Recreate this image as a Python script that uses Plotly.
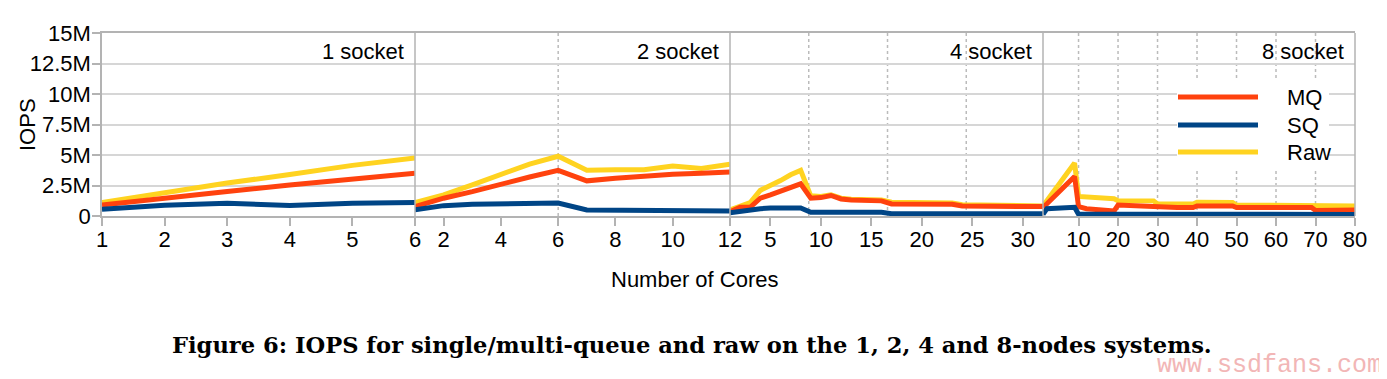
import plotly.graph_objects as go

# ---------------- data (IOPS in millions) ----------------
x1 = [1, 2, 3, 4, 5, 6]
mq1 = [0.9, 1.5, 2.0, 2.55, 3.05, 3.5]
sq1 = [0.55, 0.88, 1.04, 0.86, 1.04, 1.1]
raw1 = [1.1, 1.92, 2.7, 3.4, 4.15, 4.75]

x2 = [1, 2, 3, 4, 5, 6, 7, 8, 9, 10, 11, 12]
mq2 = [0.77, 1.46, 2.0, 2.64, 3.2, 3.74, 2.88, 3.1, 3.3, 3.43, 3.5, 3.6]
sq2 = [0.5, 0.85, 0.96, 1.0, 1.04, 1.07, 0.5, 0.47, 0.46, 0.45, 0.43, 0.41]
raw2 = [1.1, 1.73, 2.55, 3.46, 4.26, 4.9, 3.75, 3.8, 3.8, 4.1, 3.9, 4.25]

x3 = [1, 2, 3, 4, 5, 6, 7, 8, 9, 10, 11, 12, 13, 14, 15, 16, 17, 20, 23, 24, 28, 32]
mq3 = [0.36, 0.71, 0.71, 1.46, 1.73, 2.06, 2.36, 2.64, 1.46, 1.51, 1.68, 1.4,
       1.32, 1.29, 1.26, 1.24, 0.99, 0.96, 0.96, 0.82, 0.78, 0.77]
sq3 = [0.27, 0.41, 0.5, 0.6, 0.66, 0.66, 0.66, 0.66, 0.3, 0.3, 0.3, 0.3,
       0.3, 0.3, 0.3, 0.3, 0.19, 0.19, 0.19, 0.19, 0.19, 0.19]
raw3 = [0.5, 0.82, 1.1, 2.1, 2.47, 2.9, 3.38, 3.74, 1.65, 1.6, 1.73, 1.46,
        1.37, 1.34, 1.33, 1.32, 1.13, 1.1, 1.06, 0.92, 0.86, 0.82]

x4 = [1, 2, 9, 10, 12, 15, 19, 20, 25, 29, 30, 35, 39, 40, 45, 49, 50, 55, 60, 65, 69, 70, 75, 80]
mq4 = [0.71, 1.0, 3.24, 0.77, 0.6, 0.5, 0.41, 0.9, 0.8, 0.77, 0.69, 0.69,
       0.69, 0.82, 0.82, 0.82, 0.69, 0.69, 0.7, 0.69, 0.69, 0.45, 0.48, 0.5]
sq4 = [0.14, 0.6, 0.72, 0.14, 0.14, 0.14, 0.14, 0.14, 0.14, 0.14, 0.14, 0.14,
       0.14, 0.14, 0.14, 0.14, 0.14, 0.14, 0.14, 0.14, 0.14, 0.13, 0.13, 0.13]
raw4 = [0.82, 1.25, 4.34, 1.6, 1.58, 1.52, 1.42, 1.26, 1.25, 1.24, 0.99, 0.99,
        0.99, 1.13, 1.12, 1.1, 0.9, 0.9, 0.92, 0.9, 0.9, 0.82, 0.82, 0.82]

panel_labels = ["1 socket", "2 socket", "4 socket", "8 socket"]
x_ranges = [[1, 6], [1, 12], [1, 32], [1, 80]]
x_ticks = [[1, 2, 3, 4, 5, 6], [2, 4, 6, 8, 10, 12],
           [5, 10, 15, 20, 25, 30], [10, 20, 30, 40, 50, 60, 70, 80]]
socket_bounds = [[], [6], [8.8, 16.6, 24.4], [10, 20, 30, 40, 50, 60, 70]]
y_tickvals = [0, 2.5, 5, 7.5, 10, 12.5, 15]
y_ticktext = ["0", "2.5M", "5M", "7.5M", "10M", "12.5M", "15M"]

legend_names = ["MQ", "SQ", "Raw"]
colors = {"MQ": "#ff420e", "SQ": "#004586", "Raw": "#ffd320"}

panels = [(x1, mq1, sq1, raw1), (x2, mq2, sq2, raw2),
          (x3, mq3, sq3, raw3), (x4, mq4, sq4, raw4)]

# ---------------- geometry (reference pixels) ----------------
W, H = 1387, 379
OFF = 8  # browser body margin
L, R, T, B = 102, 32, 33, 163
BOTTOM = H - B
pw = W - L - R
ph = BOTTOM - T
edges_px = [102, 415, 730, 1043, 1355]
domains = [[(edges_px[i] - L) / pw, (edges_px[i + 1] - L) / pw] for i in range(4)]
domains[-1][1] = 1.0


def px(x):
    return (x - L) / pw


def py(y):
    return (BOTTOM - y) / ph


FONT = "Liberation Sans"
GRID = "#d6d6d6"
AXC = "#b3b3b3"

fig = go.Figure()
axnames = ["x", "x2", "x3", "x4"]
for i, (xs, mq, sq, raw) in enumerate(panels):
    data = {"MQ": mq, "SQ": sq, "Raw": raw}
    for name in ["Raw", "MQ", "SQ"]:
        fig.add_trace(go.Scatter(
            x=xs, y=data[name], mode="lines", name=name,
            line=dict(color=colors[name], width=5),
            xaxis=axnames[i], yaxis="y", showlegend=False,
        ))

layout = dict(
    width=W - OFF, height=H - OFF,
    margin=dict(l=L - OFF, r=R, t=T - OFF, b=B),
    paper_bgcolor="white", plot_bgcolor="white",
    font=dict(family=FONT, size=22, color="black"),
    yaxis=dict(
        domain=[0, 1], range=[0, 15], tickvals=y_tickvals, ticktext=y_ticktext,
        showgrid=True, gridcolor=GRID, gridwidth=1.5, zeroline=False,
        showline=True, linecolor=AXC, linewidth=1.5,
        ticks="outside", ticklen=8, tickcolor=AXC, tickwidth=1.5,
        anchor="x", tickfont=dict(size=22), ticklabelstandoff=-3,
    ),
    showlegend=False,
)
for i in range(4):
    key = "xaxis" if i == 0 else f"xaxis{i + 1}"
    layout[key] = dict(
        domain=domains[i], range=x_ranges[i], tickvals=x_ticks[i],
        anchor="y", showgrid=False, zeroline=False,
        showline=True, linecolor=AXC, linewidth=1.5, mirror=True,
        ticks="outside", ticklen=8, tickcolor=AXC, tickwidth=1.5,
        tickfont=dict(size=22), ticklabelstandoff=-5,
    )
fig.update_layout(**layout)

shapes = []
# vertical panel separators and right border
for i in range(1, 4):
    shapes.append(dict(type="line", xref=f"x{i + 1} domain", yref="y domain",
                       x0=0, x1=0, y0=0, y1=1, line=dict(color=AXC, width=1.5)))
shapes.append(dict(type="line", xref="x4 domain", yref="y domain",
                   x0=1, x1=1, y0=0, y1=1, line=dict(color=AXC, width=1.5)))
# dotted socket boundaries
for i, bounds in enumerate(socket_bounds):
    for b in bounds:
        shapes.append(dict(type="line", xref=axnames[i], yref="y domain",
                           x0=b, x1=b, y0=0, y1=1, layer="below",
                           line=dict(color="#bbbbbb", width=1.5, dash="dot")))
# legend box (white background hiding the grid) and legend keys
shapes.append(dict(type="rect", xref="paper", yref="paper",
                   x0=px(1177), x1=px(1329), y0=py(170), y1=py(80),
                   fillcolor="white", line=dict(width=0), layer="above"))
legend_y = [97, 125, 152]
for name, ly in zip(legend_names, legend_y):
    shapes.append(dict(type="line", xref="paper", yref="paper",
                       x0=px(1178), x1=px(1258), y0=py(ly), y1=py(ly),
                       line=dict(color=colors[name], width=5), layer="above"))
fig.update_layout(shapes=shapes)

annotations = []
for name, ly in zip(legend_names, legend_y):
    annotations.append(dict(text=name, xref="paper", yref="paper",
                            x=px(1285), y=py(ly), xanchor="left", yanchor="middle",
                            showarrow=False, font=dict(size=22)))
for i, lab in enumerate(panel_labels):
    annotations.append(dict(text=lab, xref=f"{axnames[i]} domain", yref="paper",
                            x=1, y=py(51), xanchor="right", yanchor="middle",
                            xshift=-9, showarrow=False, font=dict(size=22)))
annotations.append(dict(text="IOPS", xref="paper", yref="paper",
                        x=px(27.5), y=0.5, textangle=-90,
                        xanchor="center", yanchor="middle", showarrow=False,
                        font=dict(size=22)))
annotations.append(dict(text="Number of Cores", xref="paper", yref="paper",
                        x=px(695), y=py(279),
                        xanchor="center", yanchor="middle", showarrow=False,
                        font=dict(size=22)))
annotations.append(dict(
    text="<b>Figure 6: IOPS for single/multi-queue and raw on the 1, 2, 4 and 8-nodes systems.</b>",
    xref="paper", yref="paper", x=px(692), y=py(345),
    xanchor="center", yanchor="middle", showarrow=False,
    font=dict(family="DejaVu Serif", size=22.6, color="black")))
annotations.append(dict(
    text="www.ssdfans.com", xref="paper", yref="paper",
    x=px(1269), y=py(365), xanchor="center", yanchor="middle",
    showarrow=False, font=dict(family="Liberation Mono", size=25, color="#f2b6b6")))
fig.update_layout(annotations=annotations)

fig.write_html("out.html")
